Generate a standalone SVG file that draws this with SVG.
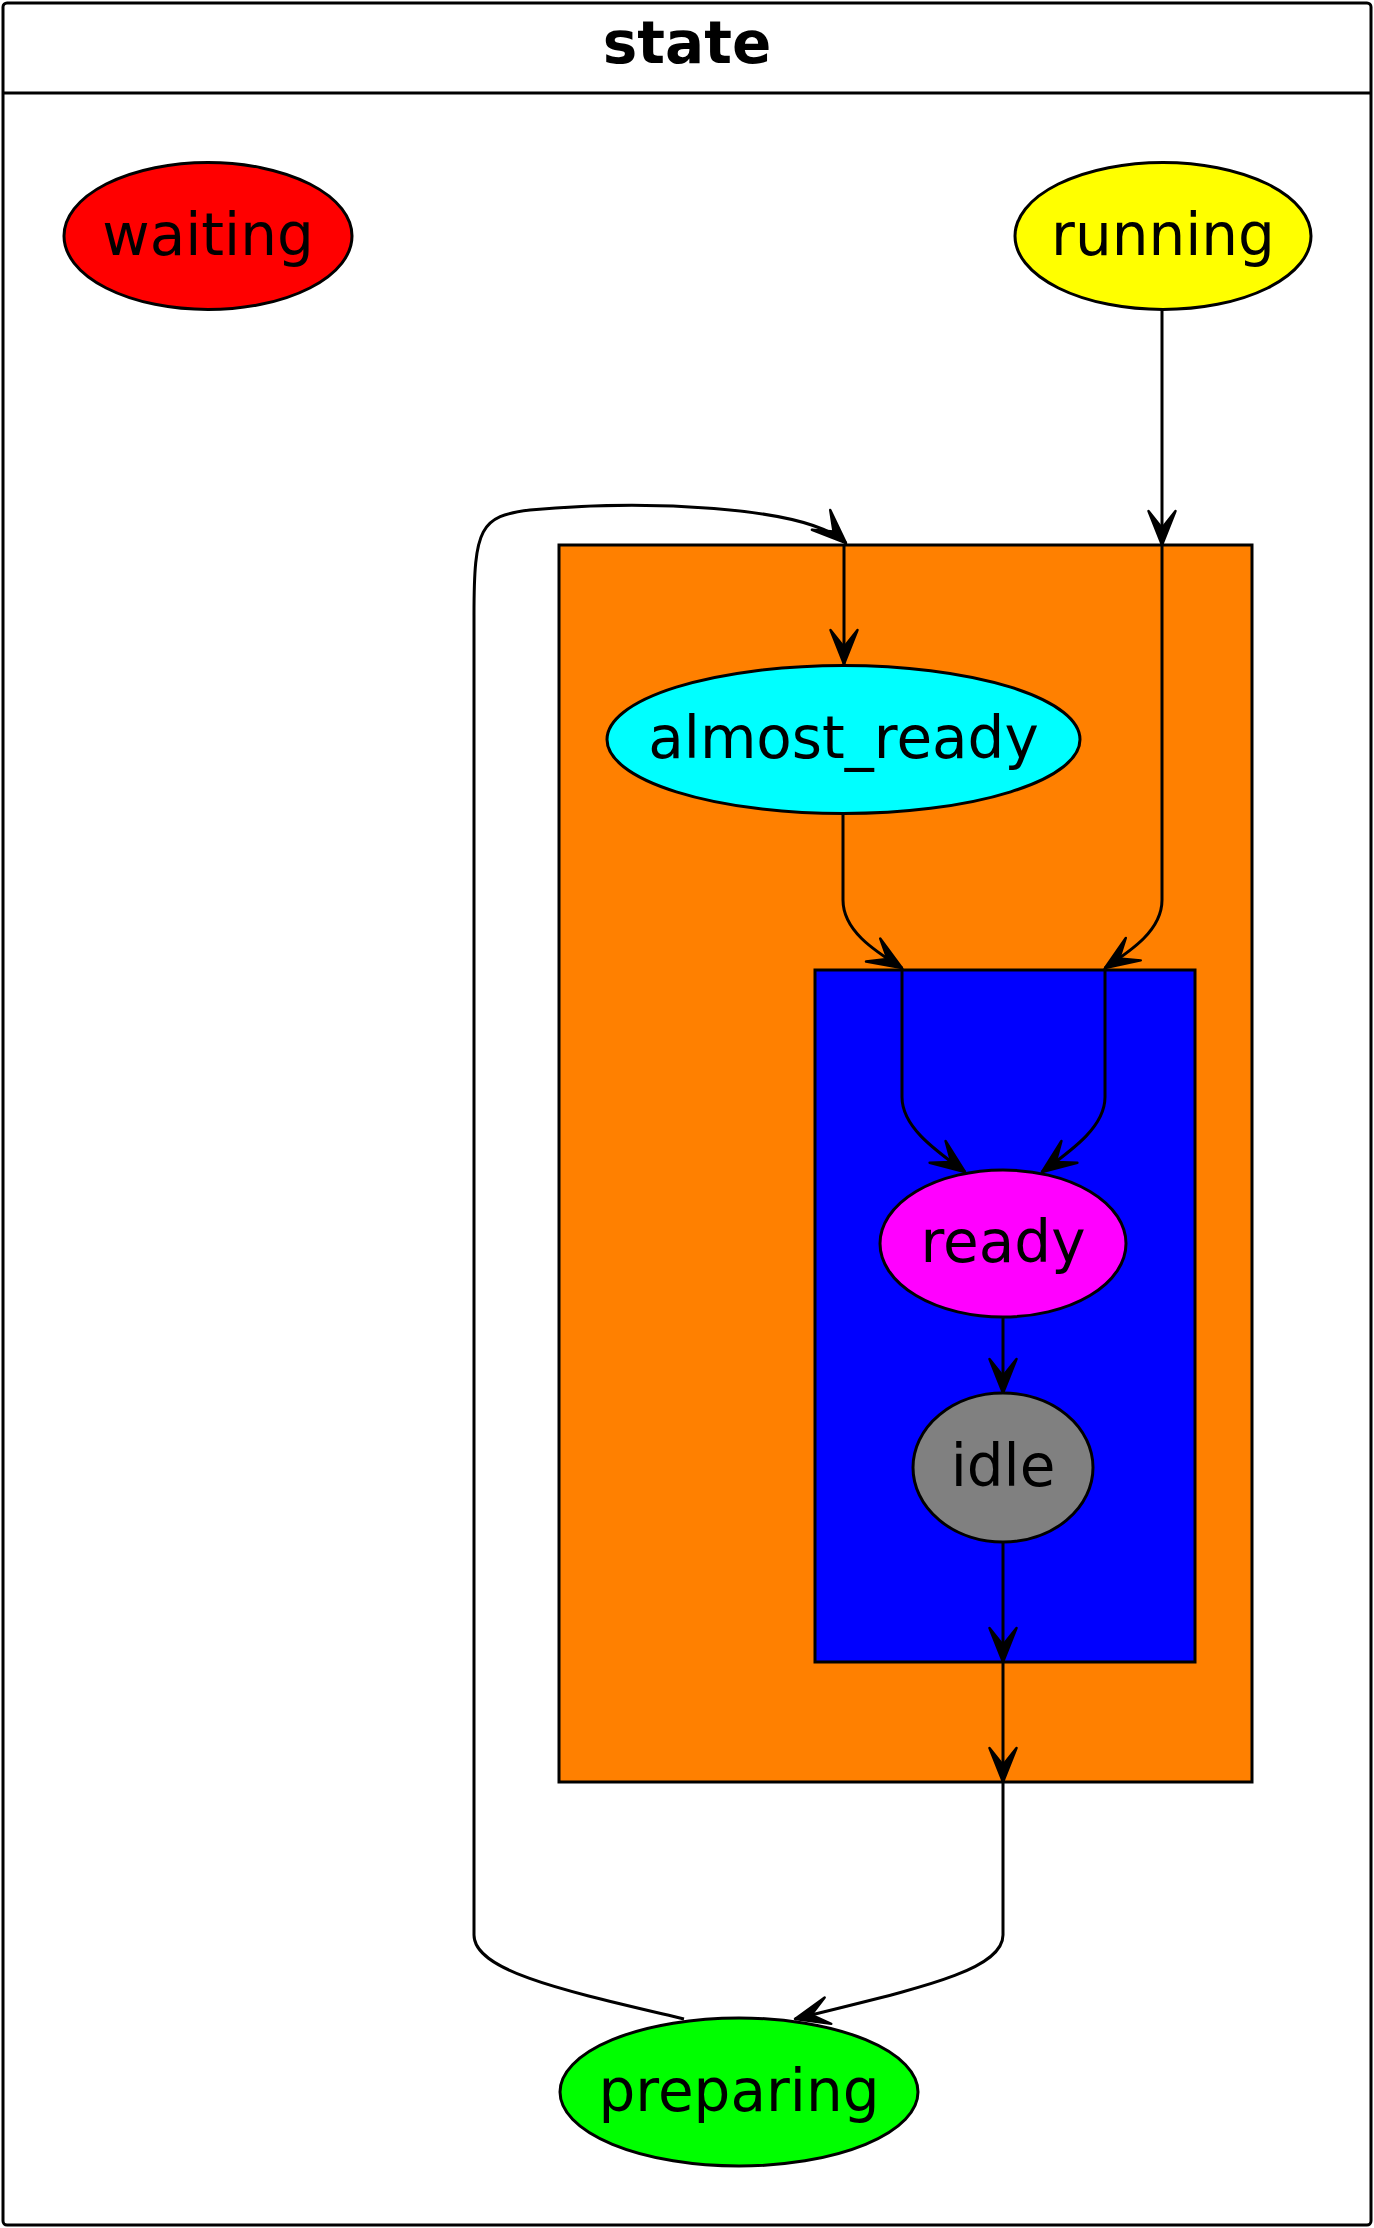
<svg xmlns="http://www.w3.org/2000/svg" width="1374" height="2228" viewBox="0 0 1374 2228">
<style>
.node ellipse{stroke:#000;stroke-width:3}
.lbl{font-family:"DejaVu Sans","Liberation Sans",sans-serif;font-size:58px;text-anchor:middle;fill:#000}
.title{font-family:"DejaVu Sans","Liberation Sans",sans-serif;font-size:58px;font-weight:bold;text-anchor:middle;fill:#000}
.cl{stroke:#000;stroke-width:3}
.edge path{fill:none;stroke:#000;stroke-width:3;marker-end:url(#arr)}
</style>
<defs>
<marker id="arr" markerUnits="userSpaceOnUse" viewBox="-38 -16 40 32" refX="0" refY="0" markerWidth="40" markerHeight="32" orient="auto" overflow="visible">
<path d="M0,0 L-34,-13.5 L-17,0 L-34,13.5 Z" fill="#000" stroke="#000" stroke-width="2.5" stroke-linejoin="round"/>
</marker>
</defs>
<rect width="1374" height="2228" fill="#fff"/>
<g id="frame">
<rect x="3" y="3" width="1368" height="2222" rx="4" fill="#fff" stroke="#000" stroke-width="3"/>
<line x1="3" y1="93" x2="1371" y2="93" stroke="#000" stroke-width="3"/>
<text class="title" x="687" y="63">state</text>
</g>
<g id="cluster_outer"><rect class="cl" x="559" y="545" width="693" height="1237" fill="#ff8000"/></g>
<g id="cluster_inner"><rect class="cl" x="815" y="970" width="380" height="692" fill="#0000ff"/></g>
<g id="edges" class="edge">
<path d="M1162,310 L1162,545"/>
<path d="M1162,545 L1162,900 C1162,930 1132,950 1105,968"/>
<path d="M1105,968 L1105,1097 C1105,1127 1072,1150 1042,1172"/>
<path d="M843,813 L843,900 C843,930 873,950 902,968"/>
<path d="M902,968 L902,1097 C902,1127 935,1150 965,1172"/>
<path d="M844,545 L844,664"/>
<path d="M1003,1317 L1003,1393"/>
<path d="M1003,1542 L1003,1662"/>
<path d="M1003,1662 L1003,1782"/>
<path d="M1003,1782 L1003,1935 C1003,1972 910,1990 795,2019"/>
<path d="M684,2019 C570,1992 474,1972 474,1935 L474,615 C474,528 480,516 530,510 C640,500 805,505 846,543"/>
</g>
<g id="waiting" class="node"><ellipse cx="208" cy="236" rx="144" ry="73.5" fill="#ff0000"/><text class="lbl" x="208" y="255">waiting</text></g>
<g id="running" class="node"><ellipse cx="1163" cy="236" rx="148" ry="73.5" fill="#ffff00"/><text class="lbl" x="1163" y="255">running</text></g>
<g id="almost_ready" class="node"><ellipse cx="843.5" cy="739.5" rx="236.5" ry="74" fill="#00ffff"/><text class="lbl" x="843.5" y="758">almost_ready</text></g>
<g id="ready" class="node"><ellipse cx="1003" cy="1243.5" rx="123" ry="73.5" fill="#ff00ff"/><text class="lbl" x="1003" y="1262">ready</text></g>
<g id="idle" class="node"><ellipse cx="1003" cy="1467.5" rx="90" ry="74.5" fill="#808080"/><text class="lbl" x="1003" y="1486">idle</text></g>
<g id="preparing" class="node"><ellipse cx="739" cy="2092" rx="179" ry="74" fill="#00ff00"/><text class="lbl" x="739" y="2111">preparing</text></g>
</svg>
